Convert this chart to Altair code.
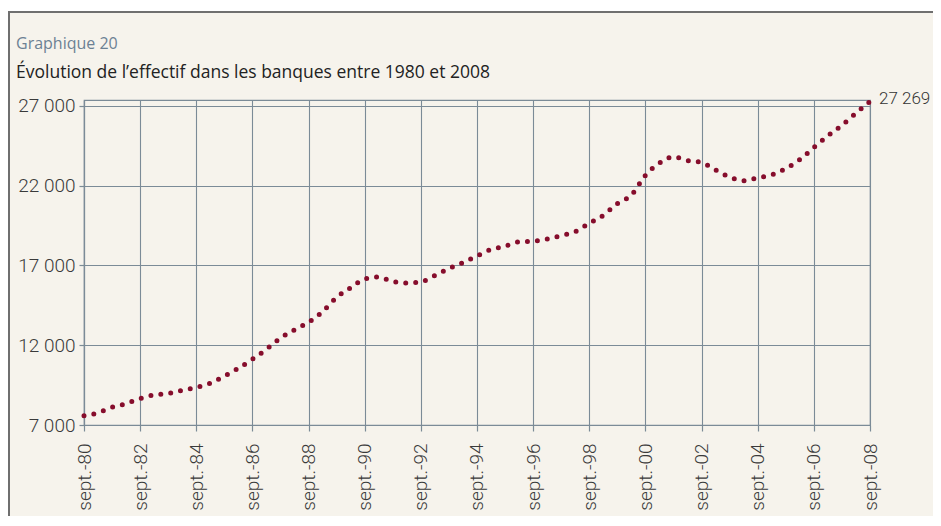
import altair as alt
import pandas as pd

# Semi-annual readings (March / September), sept. 1980 -> sept. 2008
start_year = 1980
values = [7584, 7760, 8110, 8340, 8660, 8880, 8970, 9170, 9360, 9620,
          10060, 10550, 11120, 11740, 12450, 12960, 13440, 14100, 15000, 15590,
          16150, 16270, 15990, 15900, 15970, 16360, 16800, 17170, 17590, 17990,
          18190, 18480, 18510, 18650, 18870, 19110, 19640, 20130, 20870, 21400,
          22640, 23400, 23800, 23570, 23450, 22980, 22530, 22300, 22490, 22670,
          23070, 23620, 24380, 25110, 25780, 26530, 27269]
dates = []
for i in range(len(values)):
    months = 8 + 6 * i  # starting at September (0-based month 8)
    y = start_year + months // 12
    m = months % 12 + 1
    dates.append(f"{y}-{m:02d}-01")

y_ticks = [7000, 12000, 17000, 22000, 27000]
x_tick_years = list(range(1980, 2009, 2))
last_label = "27 269"
title_small = "Graphique 20"
title_main = "Évolution de l’effectif dans les banques entre 1980 et 2008"

df = pd.DataFrame({"date": dates, "value": values})

W, H = 786, 325
GRID = "#7b8b97"
FONT = "Roboto"
TFONT = "Open Sans"

x_scale = alt.Scale(type="utc",
                    domain=[alt.DateTime(year=1980, month=9, date=1, utc=True),
                            alt.DateTime(year=2008, month=9, date=1, utc=True)])
y_scale = alt.Scale(domain=[7000, 27360], nice=False, zero=False)

x_axis = alt.Axis(values=[alt.DateTime(year=y, month=9, date=1, utc=True) for y in x_tick_years],
                  labelExpr="'sept.-' + utcFormat(datum.value, '%y')",
                  labelAngle=270, labelAlign="right", labelBaseline="middle",
                  tickSize=6, labelPadding=12, grid=True, title=None,
                  labelOverlap=False, labelFlush=False)
y_axis = alt.Axis(values=y_ticks,
                  labelExpr="replace(format(datum.value, ','), ',', ' ')",
                  tickSize=5, labelPadding=4, grid=True, title=None,
                  labelOverlap=False, labelFlush=False)

base = alt.Chart(df)

line = base.mark_line(color="#860d2c", strokeWidth=5, strokeDash=[0, 10],
                      strokeCap="round", interpolate="monotone").encode(
    x=alt.X("date:T", scale=x_scale, axis=x_axis),
    y=alt.Y("value:Q", scale=y_scale, axis=y_axis),
)

label = alt.Chart(df.tail(1)).mark_text(align="left", baseline="middle", dx=9, dy=-2,
                                        font=FONT, fontSize=17, fontWeight=300,
                                        color="#333333").encode(
    x=alt.X("date:T", scale=x_scale),
    y=alt.Y("value:Q", scale=y_scale),
    text=alt.value(last_label),
)

one = pd.DataFrame({"k": [0]})
white_strip = alt.Chart(one).mark_rect(fill="white").encode(
    x=alt.value(-80), x2=alt.value(W + 80), y=alt.value(-95), y2=alt.value(-88))
frame = alt.Chart(one).mark_rect(fillOpacity=0, stroke="#6f6f6f", strokeWidth=2).encode(
    x=alt.value(-75), x2=alt.value(W + 150), y=alt.value(-88), y2=alt.value(H + 200))

t1 = alt.Chart(one).mark_text(align="left", baseline="alphabetic", font=TFONT,
                              fontSize=16, color="#6c8194").encode(
    x=alt.value(-68), y=alt.value(-51), text=alt.value(title_small))
t2 = alt.Chart(one).mark_text(align="left", baseline="alphabetic", font=TFONT,
                              fontSize=17.5, color="#222222").encode(
    x=alt.value(-68), y=alt.value(-22), text=alt.value(title_main))

chart = alt.layer(white_strip, frame, t1, t2, line, label).properties(
    width=W, height=H,
    autosize=alt.AutoSizeParams(type="none"),
    padding={"left": 76, "top": 92, "right": 63, "bottom": 91},
    background="#f6f3ec",
).configure_view(stroke=GRID, strokeWidth=1.2).configure_axis(
    gridColor=GRID, gridWidth=1.1, gridOpacity=1,
    domainColor=GRID, domainWidth=1.2, tickColor=GRID, tickWidth=1.2,
    labelFont=FONT, labelFontSize=19, labelFontWeight=300, labelColor="#3a3a3a",
)

chart.save("out.html", embed_options={"renderer": "svg", "actions": False})
